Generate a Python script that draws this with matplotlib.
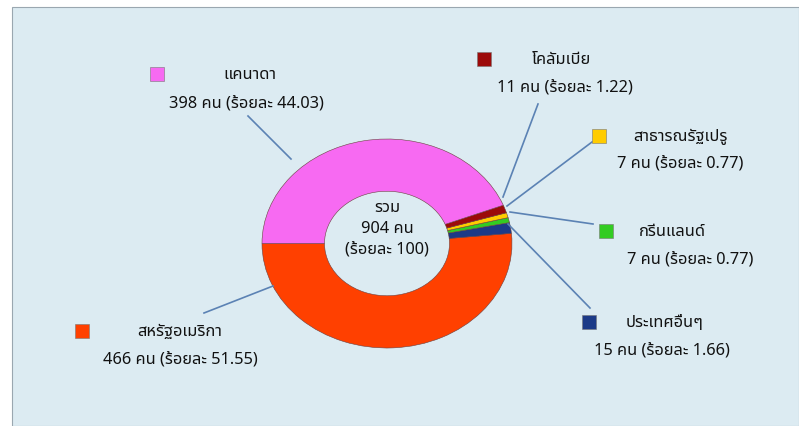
import matplotlib
matplotlib.use('Agg')
import matplotlib.pyplot as plt
from matplotlib import font_manager
from matplotlib.ft2font import FT2Font
from matplotlib.patches import Rectangle

# ข้อมูลจำนวนคนแยกตามประเทศ
countries = ['สหรัฐอเมริกา', 'ประเทศอื่นๆ', 'กรีนแลนด์', 'สาธารณรัฐเปรู', 'โคลัมเบีย', 'แคนาดา']
counts = [466, 15, 7, 7, 11, 398]
percents = ['51.55', '1.66', '0.77', '0.77', '1.22', '44.03']
colors = ['#ff4000', '#1c3a87', '#33cc22', '#ffcc00', '#9c0a0a', '#f76af2']
total = 904


def thai_font():
    # หาฟอนต์ที่มีอักษรไทย
    prefer = ['Tahoma', 'Noto Sans Thai', 'Noto Sans Thai UI', 'Loma', 'Garuda',
              'Waree', 'Sarabun', 'TH Sarabun New', 'Umpush', 'Kinnari', 'Norasi']
    found = []
    for f in font_manager.fontManager.ttflist:
        try:
            cmap = FT2Font(f.fname).get_charmap()
        except Exception:
            continue
        if 0x0E01 in cmap:
            found.append(f.name)
    for p in prefer:
        if p in found:
            return p
    return found[0] if found else 'DejaVu Sans'


plt.rcParams['font.family'] = [thai_font(), 'DejaVu Sans']
FS = 11.8
TXT = dict(fontsize=FS, color='#111111', fontweight='medium')

W, H = 799, 427
fig = plt.figure(figsize=(W / 100, H / 100), dpi=100)
fig.patch.set_facecolor('white')
bg = Rectangle((12 / W, 0), 1 - 12 / W, 1 - 8 / H, transform=fig.transFigure,
               facecolor='#dcebf2', edgecolor='#9aa7b0', linewidth=0.8, zorder=-5)
fig.patches.append(bg)

# โดนัท
ax = fig.add_axes([262 / W, (H - 349) / H, 250 / W, 209 / H], zorder=1)
ax.patch.set_alpha(0)
wedges, _ = ax.pie(counts, colors=colors, startangle=180, counterclock=True, radius=1.0,
                   wedgeprops=dict(width=0.5, edgecolor='#6a4040', linewidth=0.4))
ax.set_aspect('auto')
ax.set_xlim(-1, 1)
ax.set_ylim(-1, 1)
ax.axis('off')

ax.text(0, 0.15, 'รวม\n%d คน\n(ร้อยละ 100)' % total, ha='center', va='center',
        linespacing=1.4, **TXT)

# ป้ายชื่อและเส้นชี้
ov = fig.add_axes([0, 0, 1, 1], zorder=3)
ov.set_xlim(0, W)
ov.set_ylim(H, 0)
ov.axis('off')
ov.patch.set_alpha(0)

label_pos = {
    'สหรัฐอเมริกา': ((82, 332), (180, 332), (180, 360), ((204, 314), (273, 287))),
    'ประเทศอื่นๆ': ((589, 323), (665, 323), (662, 351), ((590, 309), (508, 225))),
    'กรีนแลนด์': ((606, 232), (672, 232), (690, 260), ((593, 225), (510, 213))),
    'สาธารณรัฐเปรู': ((599, 137), (680, 137), (680, 164), ((592, 143), (507, 207))),
    'โคลัมเบีย': ((484, 60), (562, 60), (565, 88), ((538, 105), (503, 198))),
    'แคนาดา': ((157, 75), (250, 75), (246, 103), ((248, 117), (291, 160))),
}

for name, n, pct, col in zip(countries, counts, percents, colors):
    mk, name_xy, val_xy, line = label_pos[name]
    ov.plot([line[0][0], line[1][0]], [line[0][1], line[1][1]], color='#5b82b4', lw=1.2)
    ov.plot(mk[0], mk[1], marker='s', markersize=9.5, color=col,
            markeredgecolor='#777777', markeredgewidth=0.4)
    ov.text(name_xy[0], name_xy[1], name, ha='center', va='center', **TXT)
    ov.text(val_xy[0], val_xy[1], '%d คน (ร้อยละ %s)' % (n, pct), ha='center', va='center', **TXT)

fig.savefig('out.png', dpi=100, facecolor=fig.get_facecolor())
